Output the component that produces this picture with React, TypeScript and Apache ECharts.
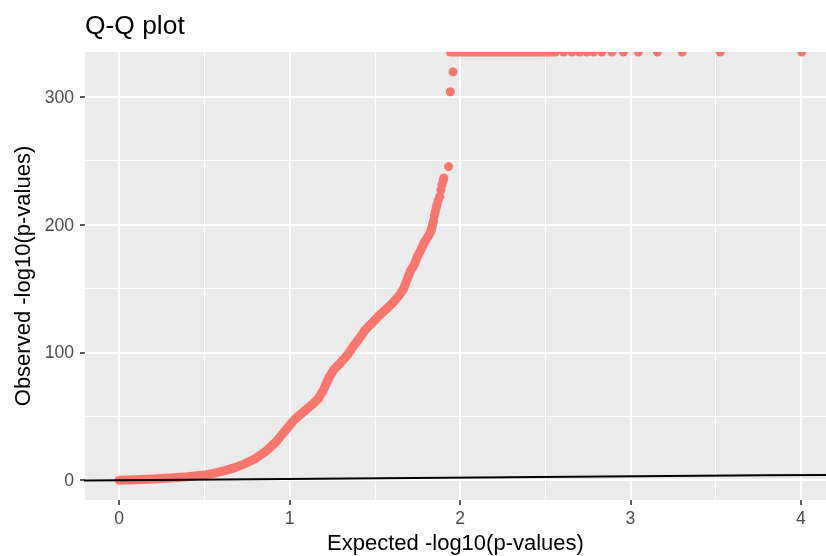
import { useEffect, useRef } from "react";
import * as echarts from "echarts";

// Axis ranges (ggplot-style expanded limits)
const X_MIN = -0.2;
const X_MAX = 4.147;
const Y_MIN = -15.5;
const Y_MAX = 335;

const X_TICKS = [0, 1, 2, 3, 4];
const X_MINOR = [0.5, 1.5, 2.5, 3.5];
const Y_TICKS = [0, 100, 200, 300];
const Y_MINOR = [50, 150, 250];

// Dense part of the Q-Q curve (expected, observed)
const curveX = [0, 0.1, 0.2, 0.3, 0.4, 0.5, 0.56, 0.62, 0.68, 0.74, 0.8, 0.86, 0.92, 0.97, 1.03, 1.1, 1.14, 1.17, 1.2, 1.23, 1.26, 1.3, 1.34, 1.37, 1.41, 1.44, 1.48, 1.52, 1.56, 1.6, 1.64, 1.67, 1.69, 1.71, 1.73, 1.75, 1.77, 1.79, 1.81, 1.83, 1.845];
const curveY = [0, 0.4, 1, 1.8, 2.7, 4, 5.5, 7.5, 9.8, 13, 17, 22.5, 30, 38, 47.5, 55.5, 60, 64, 71, 80, 86.5, 92, 98, 104, 111, 117, 122.5, 128, 133, 138, 144, 150, 157, 164, 168, 175, 180, 186, 190, 195, 203];

// Sparse points near the top of the curve
const sparseX = [1.85, 1.855, 1.86, 1.865, 1.872, 1.881, 1.888, 1.894, 1.9, 1.905, 1.933, 1.943, 1.959];
const sparseY = [207, 210, 213, 215.5, 219, 222, 227, 231, 234, 236.5, 245.4, 303.9, 319.5];

// Points with infinite observed value (drawn at the panel's top edge): [from, to]
const infStart = [1.943, 2.559, 2.607, 2.657, 2.701, 2.744, 2.783, 2.832, 2.891, 2.959, 3.046, 3.158, 3.303, 3.526, 4.005];
const infEnd = [2.54, 2.559, 2.607, 2.657, 2.701, 2.744, 2.783, 2.832, 2.891, 2.959, 3.046, 3.158, 3.303, 3.526, 4.005];

// Reference line y = x
const refLineX = [-0.3, 4.3];

const RED = "#F8766D";
const FONT = "'Liberation Sans', Arial, Helvetica, sans-serif";
const DOT = 9;

export default function App() {
  const ref = useRef<HTMLDivElement>(null);
  useEffect(() => {
    const chart = echarts.init(ref.current!, null, { renderer: "svg" });
    const option: any = {
      animation: false,
      title: {
        text: "Q-Q plot",
        left: 85,
        top: 11.5,
        padding: 0,
        textStyle: { fontFamily: FONT, fontSize: 26.4, fontWeight: "normal", color: "#000" },
      },
      grid: {
        left: 85,
        right: 0,
        top: 52,
        bottom: 56,
        show: true,
        backgroundColor: "#EBEBEB",
        borderWidth: 0,
        containLabel: false,
        outerBoundsMode: "none",
      },
      xAxis: [
        {
          type: "value",
          min: X_MIN,
          max: X_MAX,
          position: "bottom",
          axisLine: { show: false, onZero: false },
          axisTick: { show: true, length: 5, lineStyle: { color: "#333333", width: 1.6 }, customValues: X_TICKS },
          axisLabel: { customValues: X_TICKS, color: "#4D4D4D", fontSize: 17.6, fontFamily: FONT, margin: 8.5 },
          splitLine: { show: true, lineStyle: { color: "#FFFFFF", width: 2 } },
          name: "Expected -log10(p-values)",
          nameLocation: "middle",
          nameGap: 29.7,
          nameTextStyle: { fontFamily: FONT, fontSize: 22, color: "#000" },
        },
        {
          type: "value",
          min: X_MIN,
          max: X_MAX,
          position: "top",
          axisLine: { show: false, onZero: false },
          axisTick: { show: false, customValues: X_MINOR },
          axisLabel: { show: false, customValues: X_MINOR },
          splitLine: { show: true, lineStyle: { color: "#FFFFFF", width: 1.1 } },
        },
      ],
      yAxis: [
        {
          type: "value",
          min: Y_MIN,
          max: Y_MAX,
          position: "left",
          axisLine: { show: false, onZero: false },
          axisTick: { show: true, length: 5, lineStyle: { color: "#333333", width: 1.6 }, customValues: Y_TICKS },
          axisLabel: { customValues: Y_TICKS, color: "#4D4D4D", fontSize: 17.6, fontFamily: FONT, margin: 11 },
          splitLine: { show: true, lineStyle: { color: "#FFFFFF", width: 2 } },
          name: "Observed -log10(p-values)",
          nameLocation: "middle",
          nameGap: 47.6,
          nameRotate: 90,
          nameTextStyle: { fontFamily: FONT, fontSize: 22, color: "#000" },
        },
        {
          type: "value",
          min: Y_MIN,
          max: Y_MAX,
          position: "right",
          axisLine: { show: false, onZero: false },
          axisTick: { show: false, customValues: Y_MINOR },
          axisLabel: { show: false, customValues: Y_MINOR },
          splitLine: { show: true, lineStyle: { color: "#FFFFFF", width: 1.1 } },
        },
      ],
      series: [
        {
          type: "line",
          xAxisIndex: 0,
          yAxisIndex: 0,
          data: curveX.map((x, i) => [x, curveY[i]]),
          showSymbol: false,
          symbol: "none",
          smooth: false,
          lineStyle: { color: RED, width: DOT, cap: "round", join: "round" },
          z: 3,
          silent: true,
        },
        {
          type: "scatter",
          xAxisIndex: 0,
          yAxisIndex: 0,
          data: sparseX.map((x, i) => [x, sparseY[i]]),
          symbol: "circle",
          symbolSize: DOT,
          itemStyle: { color: RED, opacity: 1 },
          z: 3,
          silent: true,
        },
        {
          type: "custom",
          xAxisIndex: 0,
          yAxisIndex: 0,
          clip: true,
          data: infStart.map((x, i) => [x, infEnd[i]]),
          renderItem: (_params: any, api: any) => {
            const p1 = api.coord([api.value(0), Y_MAX]);
            const p2 = api.coord([api.value(1), Y_MAX]);
            const r = DOT / 2;
            return {
              type: "rect",
              shape: { x: p1[0] - r, y: p1[1] - r, width: p2[0] - p1[0] + DOT, height: DOT, r },
              style: { fill: RED },
            };
          },
          z: 3,
          silent: true,
        },
        {
          type: "line",
          xAxisIndex: 0,
          yAxisIndex: 0,
          data: refLineX.map((x) => [x, x]),
          showSymbol: false,
          symbol: "none",
          lineStyle: { color: "#000000", width: 2 },
          z: 5,
          silent: true,
        },
      ],
    };
    chart.setOption(option);
    return () => chart.dispose();
  }, []);
  return (
    <div
      ref={ref}
      style={{ position: "fixed", left: 0, top: 0, width: 826, height: 556 }}
    />
  );
}
